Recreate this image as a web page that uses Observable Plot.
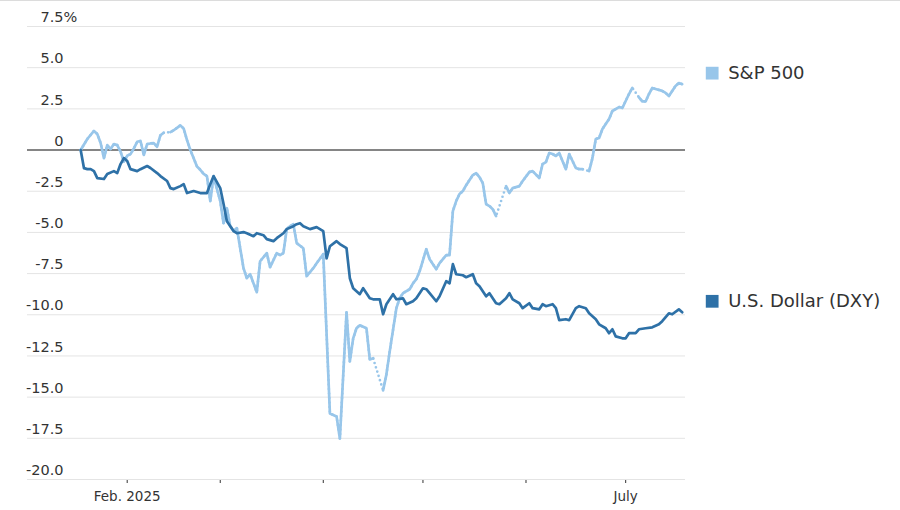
<!DOCTYPE html>
<html><head><meta charset="utf-8">
<script src="https://cdn.jsdelivr.net/npm/d3@7"></script>
<script src="https://cdn.jsdelivr.net/npm/@observablehq/plot@0.6"></script>
<style>
html,body{margin:0;padding:0;background:#fff;}
#chart{border-top:1px solid #dcdcdc;width:900px;}
</style></head><body><div id="chart"></div>
<script>
// ---- data ----
const seriesNames = ["S&P 500", "U.S. Dollar (DXY)"];

const spDates = ["2025-01-18","2025-01-20","2025-01-22","2025-01-23","2025-01-24","2025-01-25","2025-01-26","2025-01-27","2025-01-28","2025-01-29","2025-01-30","2025-01-31",
"2025-02-01","2025-02-02","2025-02-03","2025-02-04","2025-02-05","2025-02-06","2025-02-07","2025-02-08","2025-02-09","2025-02-10","2025-02-11","2025-02-12","2025-02-13","2025-02-14","2025-02-15","2025-02-16","2025-02-17","2025-02-18","2025-02-19","2025-02-20","2025-02-21","2025-02-22","2025-02-23","2025-02-24","2025-02-25","2025-02-26","2025-02-27",
"2025-03-01","2025-03-02","2025-03-03","2025-03-04","2025-03-05","2025-03-06","2025-03-08","2025-03-09","2025-03-10","2025-03-12","2025-03-13","2025-03-15","2025-03-16","2025-03-18","2025-03-19","2025-03-20","2025-03-21","2025-03-22","2025-03-23","2025-03-24","2025-03-26","2025-03-27","2025-03-29","2025-03-30",
"2025-04-01","2025-04-03","2025-04-05","2025-04-06","2025-04-08","2025-04-09","2025-04-10","2025-04-11","2025-04-12","2025-04-14","2025-04-15","2025-04-16","2025-04-17","2025-04-19","2025-04-20","2025-04-21","2025-04-23","2025-04-24","2025-04-25","2025-04-27","2025-04-28","2025-04-29","2025-04-30",
"2025-05-02","2025-05-03","2025-05-05","2025-05-06","2025-05-08","2025-05-09","2025-05-10","2025-05-11","2025-05-12","2025-05-13","2025-05-14","2025-05-16","2025-05-17","2025-05-18","2025-05-19","2025-05-20","2025-05-21","2025-05-22","2025-05-23","2025-05-24","2025-05-26","2025-05-27","2025-05-28","2025-05-30","2025-05-31",
"2025-06-02","2025-06-03","2025-06-05","2025-06-06","2025-06-07","2025-06-08","2025-06-09","2025-06-10","2025-06-11","2025-06-13","2025-06-14","2025-06-16","2025-06-17","2025-06-18","2025-06-19","2025-06-20","2025-06-21","2025-06-22","2025-06-23","2025-06-24","2025-06-26","2025-06-27","2025-06-29","2025-06-30",
"2025-07-01","2025-07-02","2025-07-03","2025-07-04","2025-07-05","2025-07-06","2025-07-07","2025-07-08","2025-07-09","2025-07-10","2025-07-12","2025-07-13","2025-07-14","2025-07-15","2025-07-16","2025-07-17","2025-07-18"];
const spValues = [0.00,0.67,1.16,0.97,0.43,-0.49,0.30,0.06,0.36,0.30,-0.10,-0.70,
-0.35,-0.25,0.10,0.50,0.55,-0.30,0.36,0.40,0.42,0.20,0.90,1.05,null,1.09,1.20,1.35,1.50,1.30,0.60,0.00,-0.50,-1.00,-1.20,-1.45,-1.58,-3.10,-1.60,
-3.10,-4.44,-3.53,-4.62,-4.92,-4.74,-7.17,-7.78,-7.54,-8.63,-6.75,-6.26,-7.11,-6.26,-6.38,-6.26,-4.80,-4.62,-4.50,-5.65,-5.96,-7.66,-7.17,-6.87,
-6.32,-15.99,-16.17,-17.51,-9.85,-12.83,-11.43,-10.82,-10.64,-10.82,-12.71,-12.64,null,-14.59,-13.62,-12.22,-9.60,-9.00,-8.69,-8.45,-8.09,-7.84,-7.36,
-6.02,-6.63,-7.23,-6.87,-6.38,-6.38,-3.71,-3.10,-2.67,-2.49,-2.13,-1.52,-1.40,-1.64,-2.01,-3.28,-3.40,-3.59,-4.01,null,-2.19,-2.61,-2.31,-2.19,-1.88,
-1.34,-1.28,-1.70,-0.85,-0.73,-0.18,-0.24,-0.36,-0.18,-1.16,-0.24,-1.09,-1.16,-1.16,null,-1.28,-0.49,0.67,0.73,1.28,1.88,2.37,2.61,2.55,
2.98,3.40,3.77,null,3.20,2.95,2.95,3.40,3.77,3.71,3.59,3.47,3.28,3.59,3.89,4.07,4.00];

const dxyDates = ["2025-01-18","2025-01-19","2025-01-20","2025-01-21","2025-01-22","2025-01-23","2025-01-25","2025-01-26","2025-01-28","2025-01-29","2025-01-30","2025-01-31",
"2025-02-01","2025-02-02","2025-02-04","2025-02-05","2025-02-07","2025-02-08","2025-02-10","2025-02-11","2025-02-13","2025-02-14","2025-02-15","2025-02-17","2025-02-18","2025-02-19","2025-02-21","2025-02-23","2025-02-25","2025-02-26","2025-02-27",
"2025-03-01","2025-03-02","2025-03-03","2025-03-05","2025-03-06","2025-03-08","2025-03-09","2025-03-11","2025-03-12","2025-03-14","2025-03-15","2025-03-17","2025-03-18","2025-03-20","2025-03-21","2025-03-23","2025-03-24","2025-03-25","2025-03-26","2025-03-28","2025-03-29","2025-03-30",
"2025-04-01","2025-04-02","2025-04-03","2025-04-05","2025-04-06","2025-04-08","2025-04-09","2025-04-10","2025-04-12","2025-04-13","2025-04-15","2025-04-16","2025-04-18","2025-04-19","2025-04-20","2025-04-22","2025-04-23","2025-04-25","2025-04-26","2025-04-28","2025-04-29",
"2025-05-01","2025-05-02","2025-05-03","2025-05-05","2025-05-06","2025-05-08","2025-05-09","2025-05-10","2025-05-11","2025-05-13","2025-05-14","2025-05-16","2025-05-17","2025-05-18","2025-05-20","2025-05-21","2025-05-23","2025-05-24","2025-05-26","2025-05-27","2025-05-28","2025-05-30","2025-05-31",
"2025-06-02","2025-06-03","2025-06-05","2025-06-06","2025-06-07","2025-06-09","2025-06-10","2025-06-11","2025-06-13","2025-06-14","2025-06-16","2025-06-17","2025-06-19","2025-06-20","2025-06-22","2025-06-23","2025-06-25","2025-06-26","2025-06-27","2025-06-28","2025-06-30",
"2025-07-01","2025-07-02","2025-07-04","2025-07-05","2025-07-07","2025-07-09","2025-07-11","2025-07-12","2025-07-14","2025-07-15","2025-07-17","2025-07-18"];
const dxyValues = [0.00,-1.10,-1.16,-1.16,-1.28,-1.70,-1.76,-1.46,-1.28,-1.40,-0.85,-0.49,
-0.67,-1.16,-1.28,-1.16,-0.97,-1.09,-1.40,-1.58,-1.88,-2.31,-2.37,-2.19,-2.07,-2.61,-2.49,-2.61,-2.61,-2.07,-1.58,
-2.31,-3.28,-4.32,-4.92,-5.05,-4.98,-5.05,-5.23,-5.05,-5.17,-5.41,-5.53,-5.35,-5.05,-4.80,-4.62,-4.50,-4.44,-4.62,-4.80,-4.74,-4.68,
-4.92,-6.57,-5.84,-5.53,-5.71,-5.96,-7.78,-8.39,-8.75,-8.39,-9.00,-9.06,-9.06,-9.97,-9.36,-8.75,-9.06,-9.00,-9.36,-9.18,-9.00,
-8.39,-8.45,-8.69,-9.18,-8.88,-7.96,-8.09,-6.93,-7.54,-7.60,-7.72,-7.54,-8.09,-8.27,-8.88,-8.69,-9.30,-9.36,-9.00,-8.69,-9.06,-9.30,-9.60,
-9.30,-9.60,-9.67,-9.36,-9.48,-9.36,-9.60,-10.33,-10.27,-10.33,-9.60,-9.48,-9.60,-9.91,-10.27,-10.58,-10.82,-11.12,-10.88,-11.31,-11.43,
-11.43,-11.12,-11.12,-10.88,-10.82,-10.76,-10.58,-10.39,-9.91,-9.97,-9.67,-9.85];

const yTicks = [7.5, 5, 2.5, 0, -2.5, -5, -7.5, -10, -12.5, -15, -17.5, -20];
const xTickDates = ["2025-02-01","2025-03-01","2025-04-01","2025-05-01","2025-06-01","2025-07-01"];
const xTickLabels = ["Feb. 2025","","","","","July"];
const xDomain = ["2025-01-02","2025-07-19"];

// ---- styles ----
const spColor = "#98c6ea";
const dxyColor = "#2e71a7";
const font = "DejaVu Sans, sans-serif";

const parse = d3.utcParse("%Y-%m-%d");
const sp = spDates.map((d, i) => ({date: parse(d), value: spValues[i]}));
const spDefined = sp.filter(d => d.value != null);
const dxy = dxyDates.map((d, i) => ({date: parse(d), value: dxyValues[i]}));
const tickMap = new Map(xTickDates.map((d, i) => [+parse(d), xTickLabels[i]]));
const legend = [
  {name: seriesNames[0], color: spColor, ...spDefined[spDefined.length - 1]},
  {name: seriesNames[1], color: dxyColor, ...dxy[dxy.length - 1]}
];
const fmt = v => v === 0 ? "0" : v.toFixed(1);

const chart = Plot.plot({
  width: 900,
  height: 509,
  marginLeft: 27,
  marginRight: 215,
  marginTop: 25,
  marginBottom: 31,
  style: {fontFamily: font, fontSize: "13.5px", color: "#333", background: "#fff", overflow: "visible"},
  x: {type: "utc", domain: xDomain.map(parse), ticks: xTickDates.map(parse), tickFormat: d => tickMap.get(+d) ?? "", tickSize: 4, tickPadding: 8, label: null},
  y: {domain: [-20, 7.5], axis: null},
  marks: [
    Plot.ruleY(yTicks.filter(t => t !== 0), {stroke: "#e4e4e4", strokeWidth: 1}),
    Plot.ruleY([0], {stroke: "#5c5c5c", strokeWidth: 1.4}),
    Plot.text(yTicks, {y: d => d, text: fmt, frameAnchor: "left", textAnchor: "end", dx: 36, dy: -9, fontSize: 14.5, fill: "#333"}),
    Plot.text(yTicks.slice(0, 1), {y: d => d, text: () => "%", frameAnchor: "left", textAnchor: "start", dx: 36, dy: -9, fontSize: 14.5, fill: "#333"}),
    Plot.line(spDefined, {x: "date", y: "value", stroke: spColor, strokeWidth: 2.7, strokeDasharray: "0,4.5", strokeLinecap: "round"}),
    Plot.line(sp, {x: "date", y: "value", stroke: spColor, strokeWidth: 2.7, strokeLinejoin: "round", strokeLinecap: "round"}),
    Plot.line(dxy, {x: "date", y: "value", stroke: dxyColor, strokeWidth: 2.7, strokeLinejoin: "round", strokeLinecap: "round"}),
    Plot.dot(legend.slice(0, 1), {x: "date", y: "value", symbol: "square", r: 7.2, fill: spColor, stroke: null, dx: 30, dy: -11}),
    Plot.dot(legend.slice(1), {x: "date", y: "value", symbol: "square", r: 7.2, fill: dxyColor, stroke: null, dx: 30, dy: -11}),
    Plot.text(legend, {x: "date", y: "value", text: "name", textAnchor: "start", dx: 46, dy: -11, fontSize: 18, fill: "#333"})
  ]
});
document.getElementById("chart").append(chart);
</script>
</body></html>
